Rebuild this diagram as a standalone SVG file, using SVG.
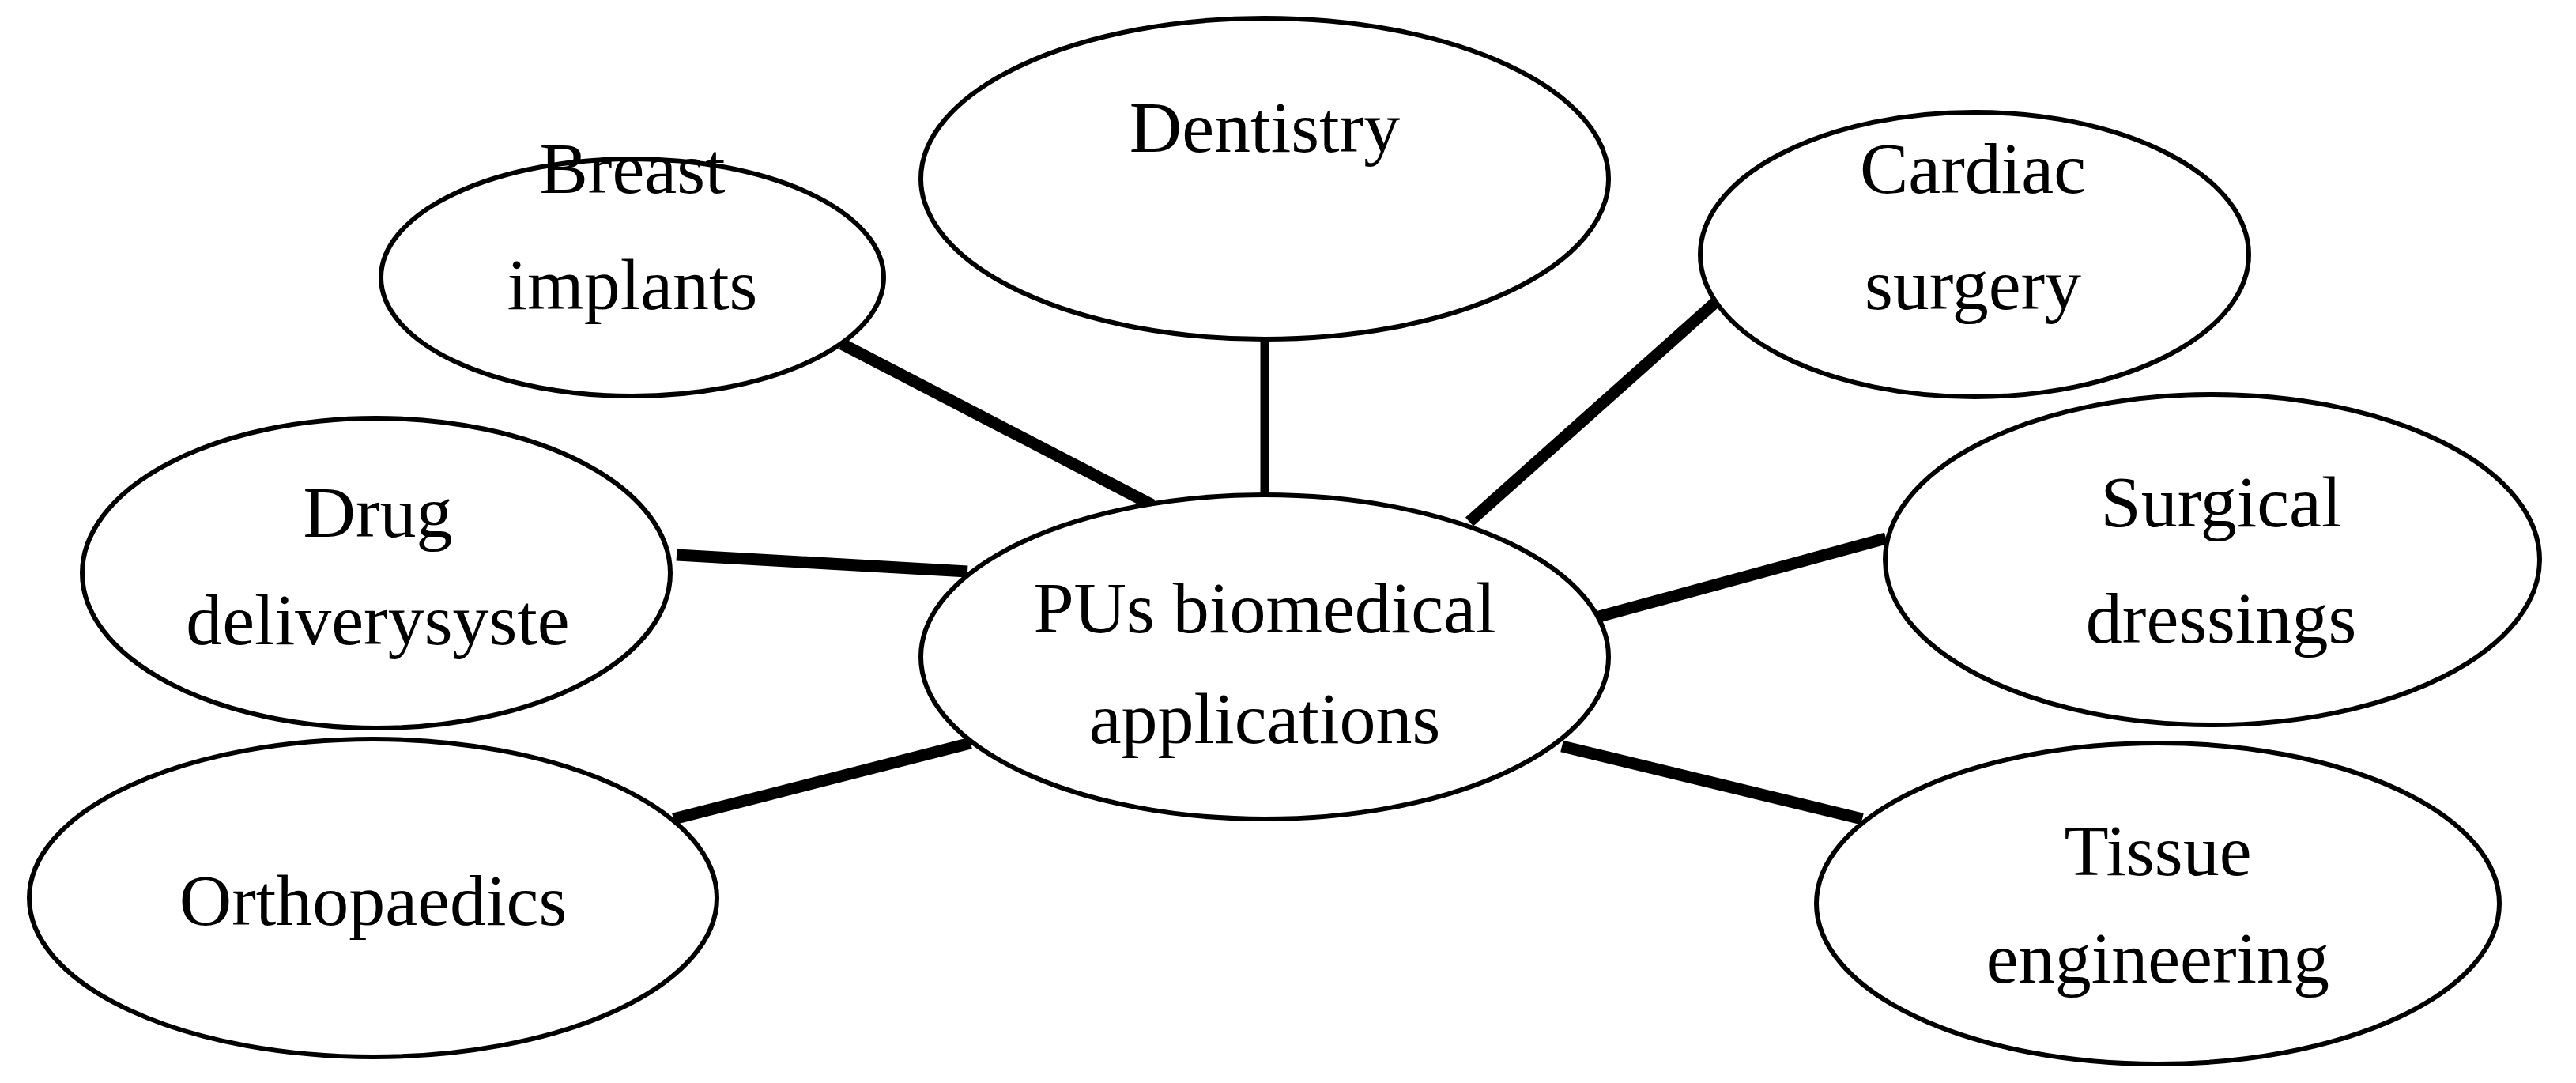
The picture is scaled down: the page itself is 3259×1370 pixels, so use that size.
<svg xmlns="http://www.w3.org/2000/svg" width="3259" height="1370" viewBox="0 0 3259 1370">
<style>
ellipse{fill:#fff;stroke:#000;stroke-width:6}
text{font-family:"Liberation Serif","DejaVu Serif",serif;font-size:92px;text-anchor:middle;fill:#000}
.c line{stroke:#000;stroke-width:15}
</style>
<rect width="3259" height="1370" fill="#fff"/>
<g class="c" id="connectors">
<line x1="1065" y1="435" x2="1458" y2="639"/>
<line x1="1600" y1="428" x2="1600" y2="631" style="stroke-width:11"/>
<line x1="2173" y1="380" x2="1859" y2="660"/>
<line x1="856" y1="702" x2="1224" y2="723"/>
<line x1="2012" y1="783" x2="2386" y2="681"/>
<line x1="852" y1="1036" x2="1228" y2="940"/>
<line x1="1976" y1="944" x2="2356" y2="1036"/>
</g>
<g id="breast"><ellipse cx="800" cy="351" rx="318" ry="150"/><text x="800" y="244">Breast</text><text x="800" y="391">implants</text></g>
<g id="dentistry"><ellipse cx="1600" cy="226" rx="435" ry="203"/><text x="1600" y="192">Dentistry</text></g>
<g id="cardiac"><ellipse cx="2498" cy="322" rx="347" ry="180"/><text x="2496" y="244">Cardiac</text><text x="2496" y="391">surgery</text></g>
<g id="drug"><ellipse cx="476" cy="725" rx="372" ry="196"/><text x="478" y="679">Drug</text><text x="478" y="815">deliverysyste</text></g>
<g id="center"><ellipse cx="1600" cy="831" rx="435" ry="205"/><text x="1600" y="800">PUs biomedical</text><text x="1600" y="940">applications</text></g>
<g id="surgical"><ellipse cx="2799" cy="708" rx="414" ry="209"/><text x="2810" y="666">Surgical</text><text x="2810" y="813">dressings</text></g>
<g id="ortho"><ellipse cx="472" cy="1136" rx="435" ry="201"/><text x="472" y="1170">Orthopaedics</text></g>
<g id="tissue"><ellipse cx="2730" cy="1143" rx="432" ry="203"/><text x="2730" y="1107">Tissue</text><text x="2730" y="1243">engineering</text></g>
</svg>
